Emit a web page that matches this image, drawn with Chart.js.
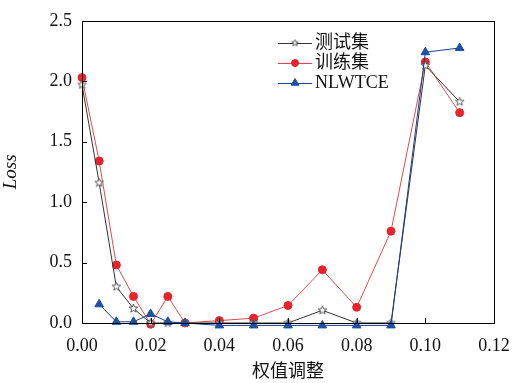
<!DOCTYPE html>
<html>
<head>
<meta charset="utf-8">
<script src="https://cdn.jsdelivr.net/npm/chart.js@4/dist/chart.umd.min.js"></script>
<style>
  html, body { margin: 0; padding: 0; background: #fff; }
  #wrap { width: 525px; height: 383px; position: relative; }
</style>
</head>
<body>
<div id="wrap"><canvas id="lossChart" width="525" height="383"></canvas></div>
<script>
// weight adjustment values on the x axis
const weights = [0, 0.005, 0.01, 0.015, 0.02, 0.025, 0.03, 0.04, 0.05, 0.06, 0.07, 0.08, 0.09, 0.10, 0.11];
const testLoss = [1.97, 1.16, 0.30, 0.12, 0.0, 0.0, 0.0, 0.0, 0.0, 0.0, 0.105, 0.0, 0.0, 2.13, 1.83];
const trainLoss = [2.03, 1.34, 0.48, 0.22, -0.01, 0.22, 0.0, 0.02, 0.04, 0.145, 0.44, 0.13, 0.76, 2.16, 1.74];
const nlwtceLoss = [null, 0.155, 0.01, 0.01, 0.075, 0.01, 0.0, -0.02, -0.02, -0.02, -0.02, -0.02, -0.02, 2.24, 2.275];
const seriesNames = ["测试集", "训练集", "NLWTCE"];
const xTicks = [0, 0.02, 0.04, 0.06, 0.08, 0.10, 0.12];
const yTicks = [0, 0.5, 1.0, 1.5, 2.0, 2.5];

const serif = "'Liberation Serif', 'Noto Sans CJK SC', serif";

// hollow five-point star used as the marker for the test set
function makeStar(size) {
  const c = document.createElement("canvas");
  c.width = size;
  c.height = size;
  const g = c.getContext("2d");
  const cx = size / 2, cy = size / 2, ro = size / 2 - 1, ri = ro * 0.42;
  g.beginPath();
  for (let i = 0; i < 10; i++) {
    const r = i % 2 === 0 ? ro : ri;
    const a = -Math.PI / 2 + (i * Math.PI) / 5;
    const px = cx + r * Math.cos(a), py = cy + r * Math.sin(a);
    if (i === 0) g.moveTo(px, py); else g.lineTo(px, py);
  }
  g.closePath();
  g.fillStyle = "#fff";
  g.fill();
  g.strokeStyle = "#555";
  g.lineWidth = 1;
  g.stroke();
  return c;
}
const starImg = makeStar(11);
const starSmall = makeStar(9);

const toPoints = (ys) => weights.map((x, i) => ({ x, y: ys[i] }));

const datasets = [
  {
    label: seriesNames[0], data: toPoints(testLoss),
    borderColor: "#333", borderWidth: 1, pointStyle: starImg,
    backgroundColor: "#fff", pointRadius: 5, clip: false, order: 1,
    legendStyle: starSmall, legendRadius: 4
  },
  {
    label: seriesNames[1], data: toPoints(trainLoss),
    borderColor: "#e24a4a", borderWidth: 1, pointStyle: "circle",
    backgroundColor: "#e8232b", pointBorderColor: "#e8232b", pointRadius: 4, clip: false, order: 2,
    legendStyle: "circle", legendRadius: 3.5
  },
  {
    label: seriesNames[2], data: toPoints(nlwtceLoss),
    borderColor: "#1d3f8f", borderWidth: 1, pointStyle: "triangle",
    backgroundColor: "#1f4fa0", pointBorderColor: "#1f4fa0", pointRadius: 5, clip: false, order: 0,
    spanGaps: false, legendStyle: "triangle", legendRadius: 4.5
  }
];

// frame, inward ticks and the legend block
const framePlugin = {
  id: "frame",
  afterDraw(chart) {
    const { ctx, chartArea: a, scales } = chart;
    ctx.save();
    ctx.strokeStyle = "#000";
    ctx.lineWidth = 1;
    ctx.strokeRect(Math.round(a.left) + 0.5, Math.round(a.top) + 0.5, Math.round(a.right - a.left), Math.round(a.bottom - a.top));
    ctx.beginPath();
    yTicks.forEach((v) => {
      const y = Math.round(scales.y.getPixelForValue(v)) + 0.5;
      ctx.moveTo(a.left, y);
      ctx.lineTo(a.left + 5, y);
    });
    xTicks.forEach((v) => {
      const x = Math.round(scales.x.getPixelForValue(v)) + 0.5;
      ctx.moveTo(x, a.bottom);
      ctx.lineTo(x, a.bottom - 5);
    });
    ctx.stroke();

    // legend: line with marker, then label
    const lx = 278, ly = 43, gap = 20;
    ctx.font = "18px " + serif;
    ctx.textBaseline = "middle";
    datasets.forEach((ds, i) => {
      const y = ly + i * gap;
      ctx.strokeStyle = ds.borderColor;
      ctx.beginPath();
      ctx.moveTo(lx, y + 0.5);
      ctx.lineTo(lx + 34, y + 0.5);
      ctx.stroke();
      ctx.fillStyle = ds.backgroundColor;
      ctx.strokeStyle = ds.pointBorderColor || ds.borderColor;
      Chart.helpers.drawPoint(ctx, {
        pointStyle: ds.legendStyle, radius: ds.legendRadius, rotation: 0, borderWidth: 1
      }, lx + 17, y);
      ctx.fillStyle = "#111";
      ctx.fillText(ds.label, lx + 37, y);
    });
    ctx.restore();
  }
};

new Chart(document.getElementById("lossChart"), {
  type: "line",
  data: { datasets },
  options: {
    responsive: false,
    animation: false,
    layout: { padding: { top: 20, right: 31, bottom: 0, left: 0 } },
    plugins: { legend: { display: false }, tooltip: { enabled: false } },
    elements: { line: { tension: 0 } },
    scales: {
      x: {
        type: "linear", min: 0, max: 0.12,
        afterBuildTicks: (s) => { s.ticks = xTicks.map((v) => ({ value: v })); },
        afterFit: (s) => { s.height = 60; },
        grid: { display: false, drawTicks: false },
        border: { display: false },
        ticks: {
          color: "#111", padding: 12, maxRotation: 0,
          font: { family: serif, size: 18 },
          callback: (v) => Number(v).toFixed(2)
        },
        title: {
          display: true, text: "权值调整", color: "#111",
          font: { family: serif, size: 18 }, padding: { top: 2, bottom: 0 }
        }
      },
      y: {
        min: 0, max: 2.5,
        afterBuildTicks: (s) => { s.ticks = yTicks.map((v) => ({ value: v })); },
        afterFit: (s) => { s.width = 82; },
        grid: { display: false, drawTicks: false },
        border: { display: false },
        ticks: {
          color: "#111", padding: 10,
          font: { family: serif, size: 18 },
          callback: (v) => Number(v).toFixed(1)
        },
        title: {
          display: true, text: "Loss", color: "#111",
          font: { family: serif, size: 19, style: "italic" }, padding: { top: 0, bottom: 6 }
        }
      }
    }
  },
  plugins: [framePlugin]
});
</script>
</body>
</html>
